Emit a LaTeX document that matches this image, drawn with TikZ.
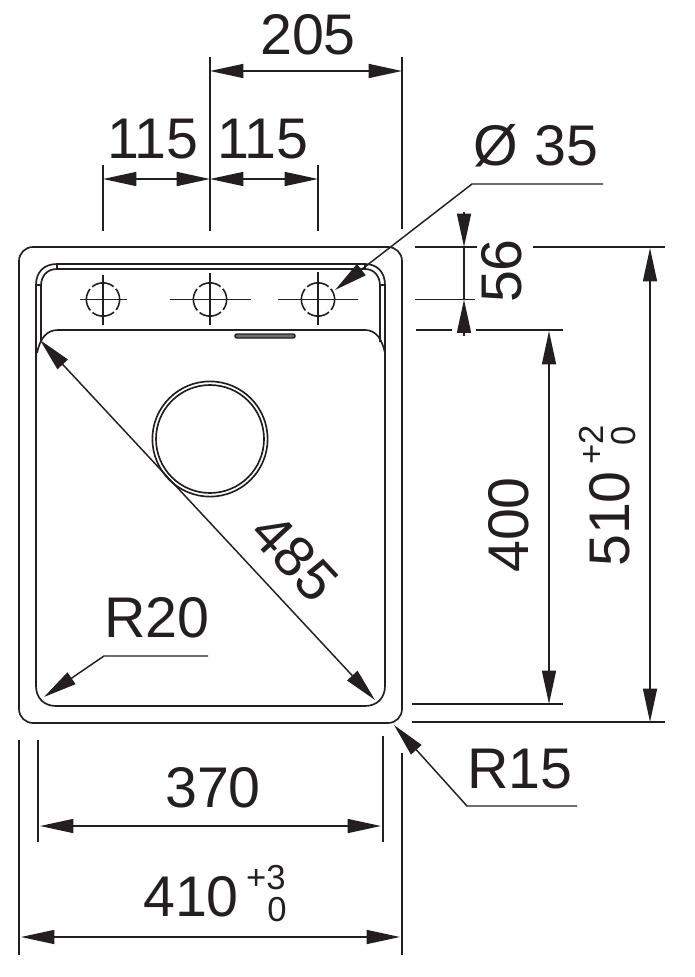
\documentclass[tikz,border=0pt]{standalone}
\usepackage{fontspec}
\setmainfont{Liberation Sans}
\usetikzlibrary{arrows.meta}
\definecolor{ink}{HTML}{231F20}
\tikzset{
  line/.style={draw=ink,line width=1.25pt},
  thin line/.style={draw=ink,line width=1.1pt},
  hole/.style={draw=ink,line width=1.2pt,dash pattern=on 17.4pt off 2.3pt,dash phase=8.7pt},
  dim/.style={draw=ink,line width=1.1pt,{Triangle[length=25pt,width=10.5pt,fill=ink]}-{Triangle[length=25pt,width=10.5pt,fill=ink]}},
  tip/.style={draw=ink,line width=1.1pt,-{Triangle[length=25pt,width=10.5pt,fill=ink]}},
  big/.style={inner sep=0pt,text=ink,font=\fontsize{43}{43}\selectfont},
  small/.style={inner sep=0pt,text=ink,font=\fontsize{26}{26}\selectfont}
}
\begin{document}
\begin{tikzpicture}[x=0.75pt,y=-0.75pt]
\useasboundingbox (0,0) rectangle (694,977);
% outer rim
\draw[line,rounded corners=10.5pt] (19,247) rectangle (402,723);
% inner bowl outer edge
\draw[line] (36,285) .. controls (36,272) and (44,264) .. (57,264) -- (365,264) .. controls (377,264) and (385,272) .. (385,285)
  -- (385,686) .. controls (385,698) and (377,706) .. (365,706) -- (56,706) .. controls (44,706) and (36,698) .. (36,686) -- cycle;
% inner ledge
\draw[line] (41,342) -- (41,286) .. controls (41,276) and (47,269) .. (57,269) -- (365,269) .. controls (374,269) and (380,276) .. (380,286) -- (380,342);
\draw[thin line] (36,285) -- (41,285) (57,264) -- (57,269) (380,285) -- (385,285) (365,264) -- (365,269);
% bowl top
\draw[line] (37,353) .. controls (40,339) and (46,330) .. (58,330) -- (365,330) .. controls (376,330) and (382,339) .. (385,353);
% slot
\draw[thin line,fill=ink!65,rounded corners=1.5pt] (235,334) rectangle (295,338);
% drain
\draw[line] (210,439) circle[radius=43.2pt];
\draw[line] (210,439) circle[radius=40.5pt];
% tap holes
\draw[hole] (103,299.5) circle[radius=12.5pt];
\draw[hole] (210,299.5) circle[radius=12.5pt];
\draw[hole] (318,299.5) circle[radius=12.5pt];
\draw[thin line] (80,299.5) -- (127,299.5) (103,275) -- (103,325);
\draw[thin line] (170,299.5) -- (251,299.5) (210,273) -- (210,325);
\draw[thin line] (278,299.5) -- (358,299.5) (318,272) -- (318,325);
% extension lines
\draw[thin line] (210,57) -- (210,231) (402,57) -- (402,229);
\draw[thin line] (103,165) -- (103,231) (318,165) -- (318,231);
\draw[thin line] (415,247) -- (477,247) (533,247) -- (665,247);
\draw[thin line] (415,299.5) -- (475,299.5);
\draw[thin line] (416,330) -- (452,330) (476,330) -- (563,330);
\draw[thin line] (412,704) -- (563,704) (412,722) -- (665,722);
\draw[thin line] (19,740) -- (19,955) (38,740) -- (38,842) (383,736) -- (383,842) (402,753) -- (402,955);
% dimensions
\coordinate (a205l) at (210,71); \coordinate (a205r) at (402,71);
\draw[dim] (a205l) -- (a205r);
\coordinate (a115l) at (103,179); \coordinate (a115m) at (210,179); \coordinate (a115r) at (318,179);
\draw[dim] (a115l) -- (a115m);
\draw[dim] (a115m) -- (a115r);
\coordinate (a510t) at (650,248); \coordinate (a510b) at (650,722);
\draw[dim] (a510t) -- (a510b);
\coordinate (a400t) at (549,331); \coordinate (a400b) at (549,704);
\draw[dim] (a400t) -- (a400b);
\coordinate (a370l) at (40,826); \coordinate (a370r) at (381,826);
\draw[dim] (a370l) -- (a370r);
\coordinate (a410l) at (21,937); \coordinate (a410r) at (400,937);
\draw[dim] (a410l) -- (a410r);
\coordinate (a485a) at (40,340); \coordinate (a485b) at (375,700);
\draw[dim] (a485a) -- (a485b);
% 56
\coordinate (a56t) at (464,212); \coordinate (a56ta) at (464,247); \coordinate (a56m) at (464,299.5); \coordinate (a56b) at (464,336);
\draw[tip] (a56t) -- (a56ta);
\draw[thin line] (a56ta) -- (a56m);
\draw[tip] (a56b) -- (a56m);
% leaders
\coordinate (d35e) at (603,184); \coordinate (d35k) at (472,184); \coordinate (d35t) at (335,290);
\draw[tip] (d35e) -- (d35k) -- (d35t);
\coordinate (r20e) at (208,656); \coordinate (r20k) at (104,656); \coordinate (r20t) at (44,697);
\draw[tip] (r20e) -- (r20k) -- (r20t);
\coordinate (r15e) at (577,806); \coordinate (r15k) at (467,806); \coordinate (r15t) at (394,725);
\draw[tip] (r15e) -- (r15k) -- (r15t);
% labels
\node[big] (t205) at (308,35) {205};
\node[big] (t115a) at (153,139) {115};
\node[big] (t115b) at (263,139) {115};
\node[big] (t35) at (536,146) {Ø 35};
\node[big,rotate=90] (t56) at (502,271) {56};
\node[big,rotate=90] (t400) at (509,525) {400};
\node[big,rotate=90] (t510) at (610,519) {510};
\node[small,rotate=90] (t510p) at (591,445) {+2};
\node[small,rotate=90] (t510z) at (624,436) {0};
\node[big,rotate=-47] (t485) at (295,557) {485};
\node[big] (tr20) at (157,618) {R20};
\node[big] (t370) at (213,788) {370};
\node[big] (tr15) at (520,769) {R15};
\node[big] (t410) at (191,897) {410};
\node[small] (t410p) at (266,878) {+3};
\node[small] (t410z) at (277,910) {0};
\end{tikzpicture}
\end{document}
